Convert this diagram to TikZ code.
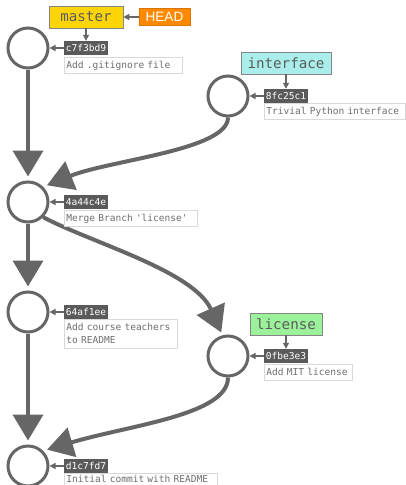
\documentclass[tikz,border=0pt]{standalone}
\usepackage{fontspec}
\setmonofont{DejaVu Sans Mono}
\newfontfamily\headfont{Liberation Sans}
\usetikzlibrary{arrows.meta}
\definecolor{linegray}{HTML}{666666}
\definecolor{hashgray}{HTML}{5A5A5A}
\definecolor{msgtext}{HTML}{6E6E6E}
\definecolor{msgborder}{HTML}{D9D9D9}
\definecolor{masterfill}{HTML}{FCD407}
\definecolor{ifacefill}{HTML}{A9EEEA}
\definecolor{licfill}{HTML}{9CF29A}
\definecolor{headfill}{HTML}{FF8A00}
\definecolor{branchtext}{HTML}{5C5C5C}
\tikzset{
  commit/.style={circle, draw=linegray, line width=3pt, fill=white,
    minimum size=40pt, inner sep=0pt},
  hash/.style={fill=hashgray, text=white, inner sep=0pt,
    minimum width=44pt, minimum height=14pt,
    font=\ttfamily\fontsize{9.55}{11}\selectfont},
  msg/.style={draw=msgborder, line width=0.8pt, fill=white, text=msgtext,
    anchor=north west, inner xsep=2pt, inner ysep=0pt, minimum height=16pt,
    align=left, font=\ttfamily\fontsize{9.55}{13}\selectfont},
  branch/.style={draw=linegray!80, line width=0.6pt, text=branchtext,
    inner sep=0pt, minimum height=22pt,
    font=\ttfamily\fontsize{14.2}{16}\selectfont},
  headlabel/.style={fill=headfill, draw=headfill!85!black, line width=0.5pt,
    text=white, inner sep=0pt, minimum width=51pt, minimum height=17pt,
    font=\headfont\fontsize{13.5}{15}\selectfont},
  parent/.style={draw=linegray, line width=4pt,
    -{Triangle[length=26pt,width=30pt]}, shorten >=4pt},
  pointer/.style={draw=linegray, line width=1.3pt,
    -{Triangle[length=6pt,width=6pt]}},
}
\begin{document}
\begin{tikzpicture}[x=1pt,y=-1pt]
\useasboundingbox[fill=white] (0,0) rectangle (406,485);

% commits
\node[commit] (c1) at (28,48) {};
\node[commit] (c2) at (228,96) {};
\node[commit] (c3) at (28,202) {};
\node[commit] (c4) at (28,312) {};
\node[commit] (c5) at (228,356) {};
\node[commit] (c6) at (28,466) {};

% history edges (child -> parent)
\draw[parent] (c1) -- (c3);
\draw[parent] (c3) -- (c4);
\draw[parent] (c4) -- (c6);
\draw[parent] (c2.south) .. controls (228,150) and (110,160) .. (c3.45);
\draw[parent, shorten >=3pt] (c3.-45) .. controls (92,243) and (194,271) .. (c5.105);
\draw[parent] (c5.south) .. controls (228,415) and (130,425) .. (c6.45);

% hashes
\node[hash] (h1) at (86,48) {c7f3bd9};
\node[hash] (h2) at (286,96) {8fc25c1};
\node[hash] (h3) at (86,202) {4a44c4e};
\node[hash] (h4) at (86,312) {64af1ee};
\node[hash] (h5) at (286,356) {0fbe3e3};
\node[hash] (h6) at (86,466) {d1c7fd7};

\foreach \i in {1,...,6} \draw[pointer] (h\i) -- (c\i);

% commit messages
\node[msg, text width=114pt] (m1) at (64,57) {Add .gitignore file};
\node[msg, text width=137pt] (m2) at (264,103) {Trivial Python interface};
\node[msg, text width=129pt] (m3) at (64,210) {Merge Branch 'license'};
\node[msg, text width=109pt, minimum height=29pt] (m4) at (64,319) {Add course teachers\\to README};
\node[msg, text width=84pt] (m5) at (264,364) {Add MIT license};
\node[msg, text width=149pt, minimum height=12pt] (m6) at (64,473) {Initial commit with README};

% branches
\node[branch, fill=masterfill, minimum width=74pt] (master) at (86,17) {master};
\node[branch, fill=ifacefill, minimum width=90pt] (iface) at (286,63) {interface};
\node[branch, fill=licfill, minimum width=72pt] (lic) at (286,324) {license};
\node[headlabel] (head) at (164.5,17) {HEAD};

\draw[pointer] (master) -- (h1);
\draw[pointer] (iface) -- (h2);
\draw[pointer] (lic) -- (h5);
\draw[pointer] (head) -- (master);
\end{tikzpicture}
\end{document}
